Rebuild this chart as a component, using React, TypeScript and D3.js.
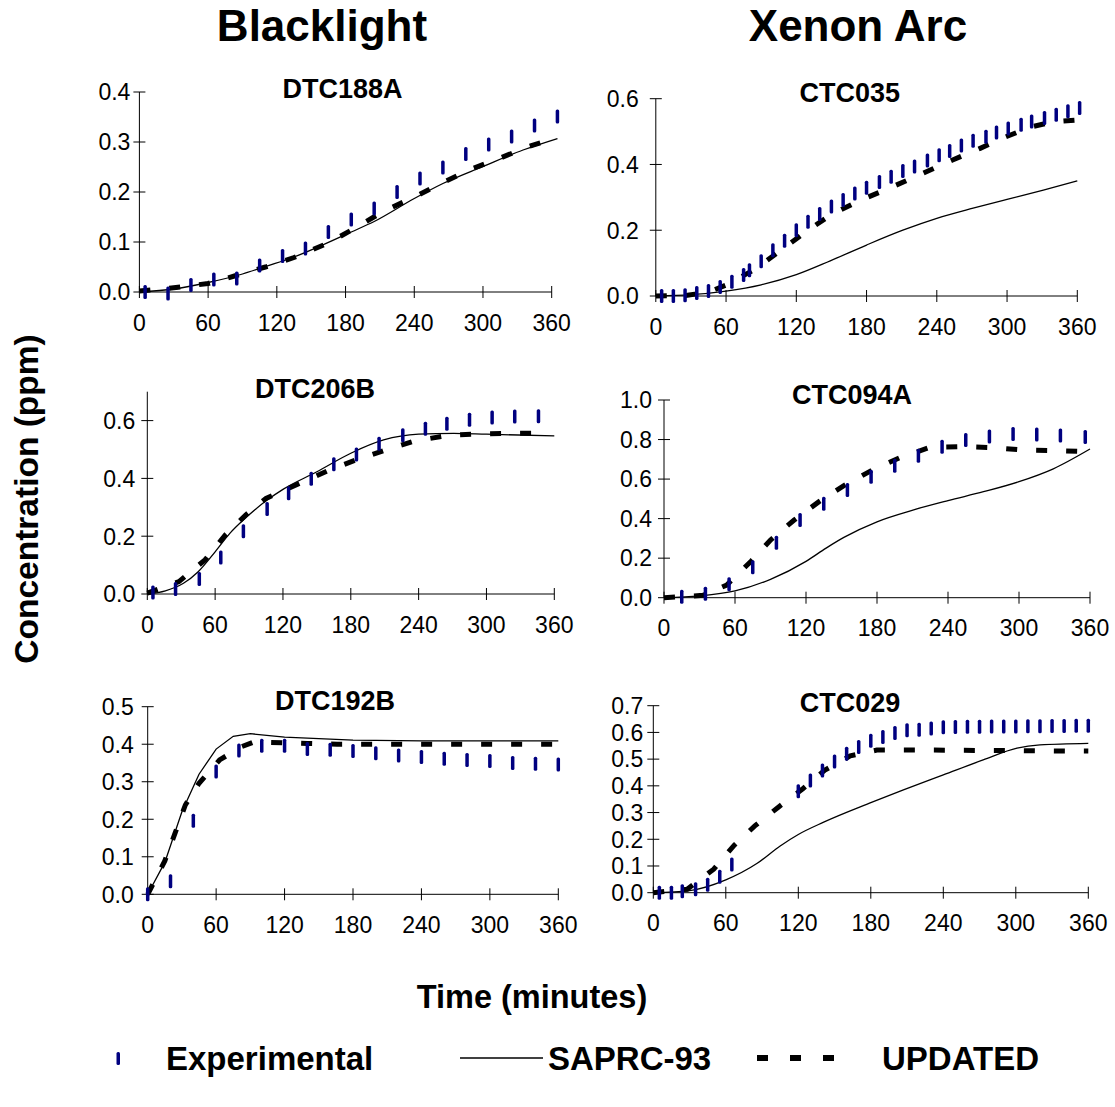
import React from 'react';
import * as d3 from 'd3';

type P = [number, number];

// ---------- DATA (time in minutes, concentration in ppm) ----------
const xTickValues = [0, 60, 120, 180, 240, 300, 360];

// DTC188A (Blacklight)
const dtc188aYTicks = [0, 0.1, 0.2, 0.3, 0.4];
const dtc188aExp: P[] = [[5, 0.0], [25, -0.003], [45, 0.014], [65, 0.025], [85, 0.027], [105, 0.053], [125, 0.072], [145, 0.087], [165, 0.12], [185, 0.145], [205, 0.167], [225, 0.2], [245, 0.227], [265, 0.249], [285, 0.276], [305, 0.295], [325, 0.311], [345, 0.333], [365, 0.351]];
const dtc188aSaprc: P[] = [[0, 0], [30, 0.006], [60, 0.019], [90, 0.036], [110, 0.051], [135, 0.07], [160, 0.094], [185, 0.12], [205, 0.141], [240, 0.187], [265, 0.217], [300, 0.251], [335, 0.284], [365, 0.307]];
const dtc188aUpdated: P[] = [[0, 0.002], [25, 0.007], [60, 0.017], [83, 0.032], [110, 0.05], [135, 0.069], [165, 0.098], [190, 0.13], [212, 0.16], [240, 0.19], [265, 0.219], [290, 0.246], [315, 0.268], [340, 0.291], [365, 0.309]];

// CTC035 (Xenon Arc)
const ctc035YTicks = [0, 0.2, 0.4, 0.6];
const ctc035Exp: P[] = [[5, 0], [15, 0], [25, 0.002], [35, 0.009], [45, 0.015], [55, 0.027], [65, 0.043], [75, 0.064], [80, 0.078], [90, 0.106], [100, 0.139], [110, 0.168], [120, 0.2], [130, 0.226], [140, 0.249], [150, 0.272], [160, 0.292], [170, 0.312], [180, 0.329], [191, 0.347], [201, 0.363], [211, 0.38], [221, 0.394], [232, 0.412], [242, 0.428], [251, 0.441], [261, 0.458], [271, 0.472], [282, 0.484], [291, 0.497], [301, 0.509], [312, 0.521], [321, 0.531], [332, 0.541], [342, 0.551], [352, 0.562], [362, 0.572]];
const ctc035Saprc: P[] = [[0, 0], [30, 0.004], [60, 0.015], [90, 0.034], [120, 0.065], [149, 0.107], [180, 0.155], [211, 0.2], [240, 0.236], [271, 0.267], [300, 0.294], [331, 0.322], [360, 0.35]];
const ctc035Updated: P[] = [[0, 0], [27, 0.002], [45, 0.012], [60, 0.033], [86, 0.084], [107, 0.14], [128, 0.195], [150, 0.248], [176, 0.293], [202, 0.332], [228, 0.373], [253, 0.413], [277, 0.449], [299, 0.484], [320, 0.514], [340, 0.53], [360, 0.535]];

// DTC206B (Blacklight)
const dtc206bYTicks = [0, 0.2, 0.4, 0.6];
const dtc206bExp: P[] = [[5, 0.005], [25, 0.017], [46, 0.052], [65, 0.126], [85, 0.217], [106, 0.294], [125, 0.349], [145, 0.399], [165, 0.449], [185, 0.483], [205, 0.52], [226, 0.549], [246, 0.572], [265, 0.589], [285, 0.603], [305, 0.611], [325, 0.614], [346, 0.615]];
const dtc206bSaprc: P[] = [[0, 0], [16, 0.011], [32, 0.037], [45, 0.077], [60, 0.146], [73, 0.21], [88, 0.267], [106, 0.325], [120, 0.362], [150, 0.423], [180, 0.487], [209, 0.533], [240, 0.553], [271, 0.556], [300, 0.553], [360, 0.547]];
const dtc206bUpdated: P[] = [[0, 0.003], [28, 0.043], [51, 0.118], [69, 0.204], [87, 0.273], [105, 0.331], [135, 0.383], [161, 0.429], [186, 0.466], [212, 0.5], [236, 0.529], [268, 0.55], [296, 0.554], [322, 0.556], [352, 0.556]];

// CTC094A (Xenon Arc)
const ctc094aYTicks = [0, 0.2, 0.4, 0.6, 0.8, 1.0];
const ctc094aExp: P[] = [[15, 0.005], [35, 0.02], [55, 0.068], [75, 0.154], [95, 0.278], [115, 0.393], [135, 0.475], [155, 0.545], [175, 0.612], [195, 0.668], [215, 0.718], [235, 0.764], [255, 0.798], [275, 0.815], [295, 0.828], [315, 0.826], [335, 0.821], [356, 0.813]];
const ctc094aSaprc: P[] = [[0, 0], [30, 0.009], [60, 0.034], [90, 0.093], [120, 0.184], [137, 0.251], [152, 0.305], [180, 0.384], [211, 0.444], [240, 0.491], [270, 0.536], [300, 0.587], [329, 0.652], [360, 0.752]];
const ctc094aUpdated: P[] = [[0, 0], [33, 0.012], [53, 0.064], [74, 0.187], [90, 0.292], [110, 0.393], [131, 0.486], [153, 0.57], [177, 0.649], [200, 0.71], [225, 0.761], [252, 0.764], [278, 0.759], [303, 0.747], [330, 0.744], [357, 0.739]];

// DTC192B (Blacklight)
const dtc192bYTicks = [0, 0.1, 0.2, 0.3, 0.4, 0.5];
const dtc192bExp: P[] = [[0, 0], [20, 0.035], [40, 0.196], [60, 0.327], [80, 0.383], [100, 0.396], [120, 0.396], [140, 0.387], [160, 0.385], [180, 0.382], [200, 0.376], [220, 0.37], [240, 0.366], [260, 0.361], [280, 0.358], [300, 0.355], [320, 0.35], [340, 0.348], [360, 0.346]];
const dtc192bSaprc: P[] = [[0, 0], [15, 0.085], [30, 0.22], [45, 0.32], [60, 0.387], [75, 0.421], [90, 0.428], [120, 0.419], [180, 0.411], [240, 0.409], [360, 0.409]];
const dtc192bUpdated: P[] = [[0, 0], [15, 0.089], [24, 0.163], [33, 0.238], [45, 0.296], [63, 0.358], [82, 0.393], [93, 0.406], [120, 0.404], [140, 0.402], [166, 0.4], [360, 0.4]];

// CTC029 (Xenon Arc)
const ctc029YTicks = [0, 0.1, 0.2, 0.3, 0.4, 0.5, 0.6, 0.7];
const ctc029Exp: P[] = [[5, 0], [15, 0], [24, 0.005], [35, 0.013], [45, 0.03], [55, 0.06], [65, 0.106], [120, 0.38], [130, 0.42], [140, 0.457], [150, 0.491], [160, 0.52], [170, 0.545], [180, 0.569], [190, 0.583], [200, 0.598], [210, 0.608], [220, 0.61], [230, 0.615], [240, 0.619], [250, 0.62], [260, 0.621], [270, 0.621], [280, 0.622], [290, 0.622], [300, 0.622], [310, 0.623], [320, 0.623], [330, 0.624], [340, 0.624], [350, 0.625], [360, 0.625]];
const ctc029Saprc: P[] = [[0, 0], [30, 0.008], [60, 0.048], [86, 0.11], [105, 0.175], [120, 0.218], [141, 0.264], [180, 0.337], [207, 0.385], [240, 0.441], [273, 0.497], [301, 0.541], [320, 0.553], [360, 0.559]];
const ctc029Updated: P[] = [[0, 0], [28, 0.013], [50, 0.088], [67, 0.178], [84, 0.25], [104, 0.322], [124, 0.39], [142, 0.459], [163, 0.512], [185, 0.534], [222, 0.534], [360, 0.53]];

// ---------- LAYOUT ----------
interface PanelDef {
  title: string;
  exp: P[]; saprc: P[]; updated: P[];
  yTicks: number[]; yMax: number; smooth: boolean;
  x0: number; x1: number; yBottom: number; yTop: number;
  labelGap: number; titleX: number; titleY: number;
}

const panels: PanelDef[] = [
  { title: 'DTC188A', exp: dtc188aExp, saprc: dtc188aSaprc, updated: dtc188aUpdated, yTicks: dtc188aYTicks, yMax: 0.4, smooth: true, x0: 139.4, x1: 551.7, yBottom: 292, yTop: 92, labelGap: 9, titleX: 342.5, titleY: 98 },
  { title: 'CTC035', exp: ctc035Exp, saprc: ctc035Saprc, updated: ctc035Updated, yTicks: ctc035YTicks, yMax: 0.6, smooth: true, x0: 655.8, x1: 1077.3, yBottom: 296, yTop: 98.7, labelGap: 17, titleX: 849.7, titleY: 102 },
  { title: 'DTC206B', exp: dtc206bExp, saprc: dtc206bSaprc, updated: dtc206bUpdated, yTicks: dtc206bYTicks, yMax: 0.7, smooth: true, x0: 147.3, x1: 554.3, yBottom: 594, yTop: 391.7, labelGap: 12, titleX: 315, titleY: 398 },
  { title: 'CTC094A', exp: ctc094aExp, saprc: ctc094aSaprc, updated: ctc094aUpdated, yTicks: ctc094aYTicks, yMax: 1.0, smooth: true, x0: 664, x1: 1090, yBottom: 597.7, yTop: 400, labelGap: 12, titleX: 852, titleY: 404 },
  { title: 'DTC192B', exp: dtc192bExp, saprc: dtc192bSaprc, updated: dtc192bUpdated, yTicks: dtc192bYTicks, yMax: 0.5, smooth: false, x0: 147.7, x1: 558.3, yBottom: 894.3, yTop: 706.7, labelGap: 14, titleX: 335, titleY: 710 },
  { title: 'CTC029', exp: ctc029Exp, saprc: ctc029Saprc, updated: ctc029Updated, yTicks: ctc029YTicks, yMax: 0.7, smooth: true, x0: 653.3, x1: 1088.3, yBottom: 892.7, yTop: 705.7, labelGap: 10, titleX: 850, titleY: 711.5 },
];

const FONT = '"Liberation Sans", Arial, Helvetica, sans-serif';
const NAVY = '#000080';
const DASH = '11,19';
const fmt = d3.format('.1f');

function Panel({ p }: { p: PanelDef }) {
  const x = d3.scaleLinear().domain([0, 360]).range([p.x0, p.x1]);
  const y = d3.scaleLinear().domain([0, p.yMax]).range([p.yBottom, p.yTop]);
  const dashLine = d3.line<P>().x(d => x(d[0])).y(d => y(d[1]));
  const modelLine = d3.line<P>().x(d => x(d[0])).y(d => y(d[1])).curve(p.smooth ? d3.curveMonotoneX : d3.curveLinear);
  return (
    <g>
      <text x={p.titleX} y={p.titleY} textAnchor="middle" fontFamily={FONT} fontWeight="bold" fontSize={27}>{p.title}</text>
      <line x1={p.x0} x2={p.x0} y1={y(0)} y2={y(p.yMax)} stroke="#000" strokeWidth={1} />
      {p.yTicks.map(t => (
        <g key={'y' + t}>
          <line x1={p.x0 - 6} x2={p.x0 + 6} y1={y(t)} y2={y(t)} stroke="#000" strokeWidth={1} />
          <text x={p.x0 - p.labelGap} y={y(t) + 8.3} textAnchor="end" fontFamily={FONT} fontSize={23}>{fmt(t)}</text>
        </g>
      ))}
      <line x1={x(0)} x2={x(360)} y1={p.yBottom} y2={p.yBottom} stroke="#000" strokeWidth={1} />
      {xTickValues.map(t => (
        <g key={'x' + t}>
          <line x1={x(t)} x2={x(t)} y1={p.yBottom - 6} y2={p.yBottom + 6} stroke="#000" strokeWidth={1} />
          <text x={x(t)} y={p.yBottom + 38.5} textAnchor="middle" fontFamily={FONT} fontSize={23}>{t}</text>
        </g>
      ))}
      <path d={dashLine(p.updated) || ''} fill="none" stroke="#000" strokeWidth={5} strokeDasharray={DASH} />
      <path d={modelLine(p.saprc) || ''} fill="none" stroke="#000" strokeWidth={1.3} />
      {p.exp.map((d, i) => (
        <rect key={'e' + i} x={x(d[0]) - 1.75} y={y(d[1]) - 7} width={3.5} height={14} rx={1.5} fill={NAVY} />
      ))}
    </g>
  );
}

export default function App() {
  return (
    <svg width={1115} height={1107} style={{ position: 'absolute', left: 0, top: 0, background: '#fff' }}>
      <rect x={0} y={0} width={1115} height={1107} fill="#fff" />
      <text x={322} y={41} textAnchor="middle" fontFamily={FONT} fontWeight="bold" fontSize={44}>Blacklight</text>
      <text x={858} y={41} textAnchor="middle" fontFamily={FONT} fontWeight="bold" fontSize={44}>Xenon Arc</text>
      <text transform="translate(38,499) rotate(-90)" textAnchor="middle" fontFamily={FONT} fontWeight="bold" fontSize={33.5}>Concentration (ppm)</text>
      <text x={532} y={1008} textAnchor="middle" fontFamily={FONT} fontWeight="bold" fontSize={32.5}>Time (minutes)</text>
      {panels.map(p => <Panel key={p.title} p={p} />)}
      <rect x={116.5} y={1052} width={3.5} height={13} rx={1.5} fill={NAVY} />
      <text x={166} y={1070} fontFamily={FONT} fontWeight="bold" fontSize={33}>Experimental</text>
      <line x1={460} x2={543} y1={1058} y2={1058} stroke="#000" strokeWidth={1.3} />
      <text x={548} y={1070} fontFamily={FONT} fontWeight="bold" fontSize={33}>SAPRC-93</text>
      <line x1={757} x2={856} y1={1058} y2={1058} stroke="#000" strokeWidth={6} strokeDasharray="11,22" />
      <text x={882} y={1070} fontFamily={FONT} fontWeight="bold" fontSize={33}>UPDATED</text>
    </svg>
  );
}
